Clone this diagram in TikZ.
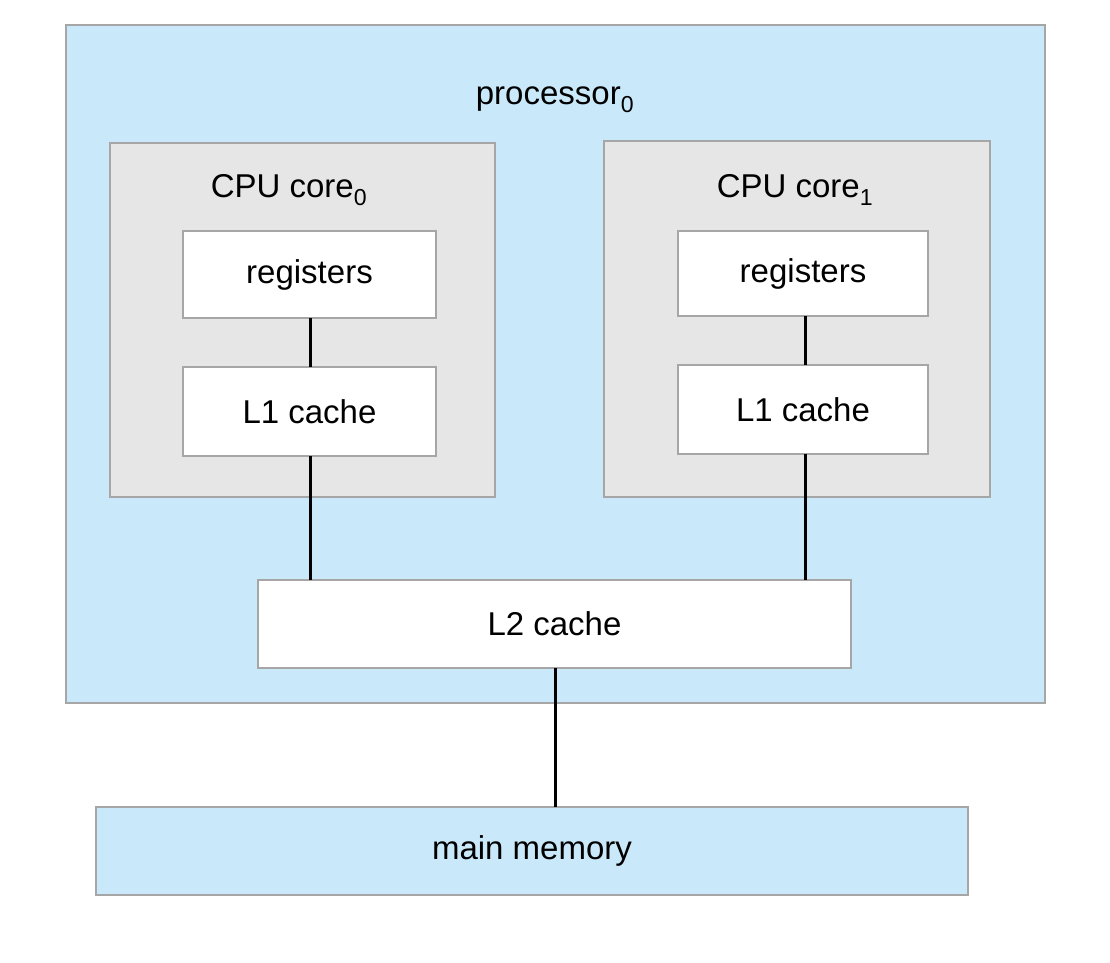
\documentclass[tikz,border=0pt]{standalone}
\usepackage{fontspec}
\setmainfont{Liberation Sans}
\begin{document}
\begin{tikzpicture}[x=1pt,y=-1pt,
  box/.style={draw=black!35,line width=1.5pt,inner sep=0pt},
  lbl/.style={font=\fontsize{33}{38}\selectfont},
  conn/.style={line width=3pt}]
\useasboundingbox (0,0) rectangle (1110,962);
\definecolor{lblue}{HTML}{C9E8F9}
\definecolor{lgray}{HTML}{E6E6E6}
\node[box,fill=lblue,minimum width=979pt,minimum height=678pt] (proc) at (555.5,364) {};
\node[lbl] (proclbl) at (555,100) {processor\textsubscript{0}};
\node[box,fill=lgray,minimum width=385pt,minimum height=354pt] (core0) at (302.5,320) {};
\node[lbl] (c0lbl) at (289,190) {CPU core\textsubscript{0}};
\node[box,fill=lgray,minimum width=386pt,minimum height=356pt] (core1) at (797,319) {};
\node[lbl] (c1lbl) at (795,190) {CPU core\textsubscript{1}};
\node[box,fill=white,minimum width=253pt,minimum height=87pt,lbl] (reg0) at (309.5,274.5) {registers};
\node[box,fill=white,minimum width=253pt,minimum height=89pt,lbl] (l10) at (309.5,411.5) {L1 cache};
\node[box,fill=white,minimum width=250pt,minimum height=85pt,lbl] (reg1) at (803,273.5) {registers};
\node[box,fill=white,minimum width=250pt,minimum height=89pt,lbl] (l11) at (803,409.5) {L1 cache};
\node[box,fill=white,minimum width=593pt,minimum height=88pt,lbl] (l2) at (554.5,624) {L2 cache};
\node[box,fill=lblue,minimum width=872pt,minimum height=88pt,lbl] (mem) at (532,851) {main memory};
\draw[conn] (310,318) -- (310,367);
\draw[conn] (310,456) -- (310,580);
\draw[conn] (805,316) -- (805,365);
\draw[conn] (805,454) -- (805,580);
\draw[conn] (555,668) -- (555,807);
\end{tikzpicture}
\end{document}
